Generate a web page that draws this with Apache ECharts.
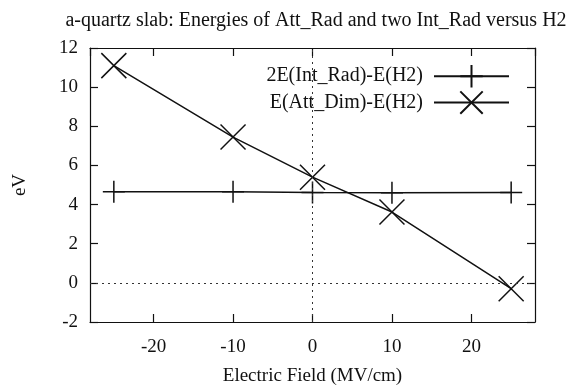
<!DOCTYPE html>
<html>
<head>
<meta charset="utf-8">
<script src="https://cdn.jsdelivr.net/npm/echarts@6/dist/echarts.min.js"></script>
<style>
  html, body { margin: 0; padding: 0; background: #fff; }
  #chart { width: 574px; height: 391px; }
</style>
</head>
<body>
<div id="chart"></div>
<script>
// field values (MV/cm)
const fields = [-25, -10, 0, 10, 25]
// 2E(Int_Rad)-E(H2)
const intRad = [4.65, 4.65, 4.62, 4.6, 4.62]
// E(Att_Dim)-E(H2)
const attDim = [11.1, 7.45, 5.4, 3.62, -0.3]

const font = 'Liberation Serif'
const ink = '#111'

const plusPath = 'path://M5,0L5,10M0,5L10,5'
const crossPath = 'path://M0,0L10,10M10,0L0,10'

const chart = echarts.init(document.getElementById('chart'))

const baseX = {
  type: 'value',
  min: -28,
  max: 28,
  splitLine: { show: false },
  axisLine: { show: true, onZero: false, lineStyle: { color: ink, width: 1.2 } },
  axisTick: { show: true, inside: true, length: 8, lineStyle: { color: ink, width: 1.2 } },
  axisLabel: { showMinLabel: false, showMaxLabel: false, fontFamily: font, fontSize: 19, color: ink, margin: 16 }
}
const baseY = {
  type: 'value',
  min: -2,
  max: 12,
  interval: 2,
  splitLine: { show: false },
  axisLine: { show: true, onZero: false, lineStyle: { color: ink, width: 1.2 } },
  axisTick: { show: true, inside: true, length: 8, lineStyle: { color: ink, width: 1.2 } },
  axisLabel: { fontFamily: font, fontSize: 19, color: ink, margin: 12 }
}

const option = {
  backgroundColor: '#fff',
  animation: false,
  title: {
    text: 'a-quartz slab: Energies of Att_Rad and two Int_Rad versus H2',
    left: 311,
    textAlign: 'center',
    top: 6,
    textStyle: { fontFamily: font, fontSize: 20, fontWeight: 'normal', color: ink }
  },
  grid: { left: 90, right: 39, top: 48, bottom: 65 },
  legend: {
    orient: 'vertical',
    right: 59,
    top: 59,
    align: 'right',
    itemWidth: 75,
    itemHeight: 28,
    itemGap: 2,
    textStyle: { fontFamily: font, fontSize: 20, color: ink, padding: [0, 6, 0, 0] },
    data: ['2E(Int_Rad)-E(H2)', 'E(Att_Dim)-E(H2)']
  },
  xAxis: [
    Object.assign({}, baseX, {
      position: 'bottom',
      name: 'Electric Field (MV/cm)',
      nameLocation: 'middle',
      nameGap: 45,
      nameTextStyle: { fontFamily: font, fontSize: 19, color: ink }
    }),
    Object.assign({}, baseX, { position: 'top', axisLabel: { show: false } })
  ],
  yAxis: [
    Object.assign({}, baseY, {
      position: 'left',
      name: 'eV',
      nameLocation: 'middle',
      nameGap: 60,
      nameTextStyle: { fontFamily: font, fontSize: 19, color: ink }
    }),
    Object.assign({}, baseY, { position: 'right', axisLabel: { show: false } })
  ],
  series: [
    {
      name: '2E(Int_Rad)-E(H2)',
      type: 'line',
      data: fields.map((x, i) => [x, intRad[i]]),
      symbol: plusPath,
      symbolSize: 22,
      lineStyle: { color: ink, width: 1.5 },
      itemStyle: { color: 'rgba(0,0,0,0)', borderColor: ink, borderWidth: 1.5 },
      markLine: {
        silent: true,
        symbol: ['none', 'none'],
        label: { show: false },
        lineStyle: { type: [2, 4], color: '#333', width: 1 },
        data: [{ yAxis: 0 }, { xAxis: 0 }]
      },
      z: 3
    },
    {
      name: 'E(Att_Dim)-E(H2)',
      type: 'line',
      data: fields.map((x, i) => [x, attDim[i]]),
      symbol: crossPath,
      symbolSize: 25,
      lineStyle: { color: ink, width: 1.5 },
      itemStyle: { color: 'rgba(0,0,0,0)', borderColor: ink, borderWidth: 1.5 },
      z: 3
    }
  ]
}

chart.setOption(option)
</script>
</body>
</html>
